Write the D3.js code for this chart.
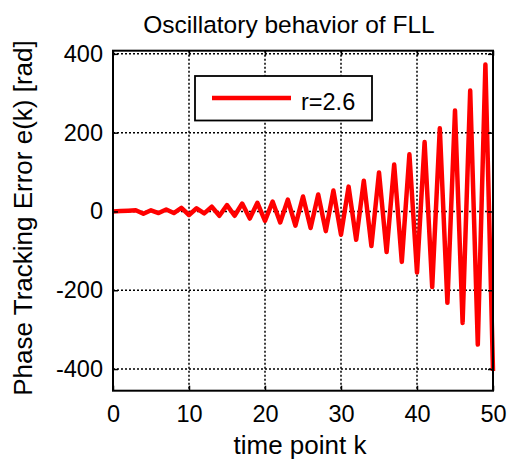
<!DOCTYPE html>
<html>
<head>
<meta charset="utf-8">
<script src="https://cdn.jsdelivr.net/npm/d3@7"></script>
<style>
  body { margin: 0; background: #fff; }
  text { font-family: Arial, "Liberation Sans", sans-serif; fill: #000; }
</style>
</head>
<body>
<div id="chart"></div>
<script>
// phase tracking error per time point k = 0..50
var errValues = [0, 1, 2, 3, -6, 3, -4, 5, -4, 9, -9, 8, -5, 12, -11, 16, -11, 20, -18, 22,
    -24, 25, -28, 30, -36, 38, -42, 43, -50, 53, -59, 63, -72, 78, -88, 99, -103, 119, -128, 145,
    -155, 176, -192, 211, -232, 256, -283, 307, -338, 373, -405];
var xTicks = [0, 10, 20, 30, 40, 50];
var yTicks = [-400, -200, 0, 200, 400];
var seriesName = "r=2.6";

var width = 513, height = 461;
var margin = { top: 50.7, left: 113 };
var w = 493 - margin.left, h = 390.7 - margin.top;

var svg = d3.select("#chart").append("svg")
    .attr("width", width)
    .attr("height", height);

var g = svg.append("g")
    .attr("transform", "translate(" + margin.left + "," + margin.top + ")");

var x = d3.scaleLinear().domain([0, 50]).range([0, w]);
var y = d3.scaleLinear().domain([-455, 408]).range([h, 0]);

// grid
g.selectAll(".vgrid").data(xTicks).enter().append("line")
    .attr("x1", function(d) { return x(d); })
    .attr("x2", function(d) { return x(d); })
    .attr("y1", 0).attr("y2", h)
    .attr("stroke", "#000").attr("stroke-width", 1.5)
    .attr("stroke-dasharray", "2,2");

g.selectAll(".hgrid").data(yTicks).enter().append("line")
    .attr("x1", 0).attr("x2", w)
    .attr("y1", function(d) { return y(d); })
    .attr("y2", function(d) { return y(d); })
    .attr("stroke", "#000").attr("stroke-width", 1.5)
    .attr("stroke-dasharray", "2,2");

// data line
var line = d3.line()
    .x(function(d, i) { return x(i); })
    .y(function(d) { return y(d); });

g.append("path")
    .datum(errValues)
    .attr("fill", "none")
    .attr("stroke", "#ff0000")
    .attr("stroke-width", 4.5)
    .attr("stroke-linejoin", "round")
    .attr("d", line);

// axes, MATLAB style box with inward ticks, plain hyphen minus
var fmt = function(d) { return String(d); };
var xAxis = d3.axisBottom(x).tickValues(xTicks).tickFormat(fmt).tickSizeInner(-5).tickSizeOuter(0);
var yAxis = d3.axisLeft(y).tickValues(yTicks).tickFormat(fmt).tickSizeInner(-5).tickSizeOuter(0);

var gx = g.append("g").attr("transform", "translate(0," + h + ")").call(xAxis);
var gy = g.append("g").call(yAxis);
g.append("g").call(d3.axisTop(x).tickValues(xTicks).tickSizeInner(-5).tickSizeOuter(0).tickFormat(""));
g.append("g").attr("transform", "translate(" + w + ",0)")
    .call(d3.axisRight(y).tickValues(yTicks).tickSizeInner(-5).tickSizeOuter(0).tickFormat(""));

g.selectAll(".domain").remove();
g.selectAll(".tick line").attr("stroke", "#000").attr("stroke-width", 1.5);
gx.selectAll("text").style("font-size", "23.5px").attr("y", 31).attr("dy", 0);
gy.selectAll("text").style("font-size", "23.5px").attr("x", -10);

g.append("rect")
    .attr("width", w).attr("height", h)
    .attr("fill", "none")
    .attr("stroke", "#000")
    .attr("stroke-width", 2);

// legend
var legend = svg.append("g");
legend.append("rect")
    .attr("x", 195).attr("y", 76)
    .attr("width", 177).attr("height", 44.5)
    .attr("fill", "#fff")
    .attr("stroke", "#000")
    .attr("stroke-width", 1.8);
legend.append("line")
    .attr("x1", 212).attr("x2", 291)
    .attr("y1", 98).attr("y2", 98)
    .attr("stroke", "#ff0000")
    .attr("stroke-width", 4.5);
legend.append("text")
    .attr("x", 301).attr("y", 110)
    .style("font-size", "23.5px")
    .text(seriesName);

// title and axis labels
svg.append("text")
    .attr("x", 289).attr("y", 33)
    .attr("text-anchor", "middle")
    .style("font-size", "24.5px")
    .text("Oscillatory behavior of FLL");

svg.append("text")
    .attr("x", 300).attr("y", 454)
    .attr("text-anchor", "middle")
    .style("font-size", "26px")
    .text("time point k");

svg.append("text")
    .attr("transform", "translate(31.5,218) rotate(-90)")
    .attr("text-anchor", "middle")
    .style("font-size", "26px")
    .text("Phase Tracking Error e(k) [rad]");
</script>
</body>
</html>
